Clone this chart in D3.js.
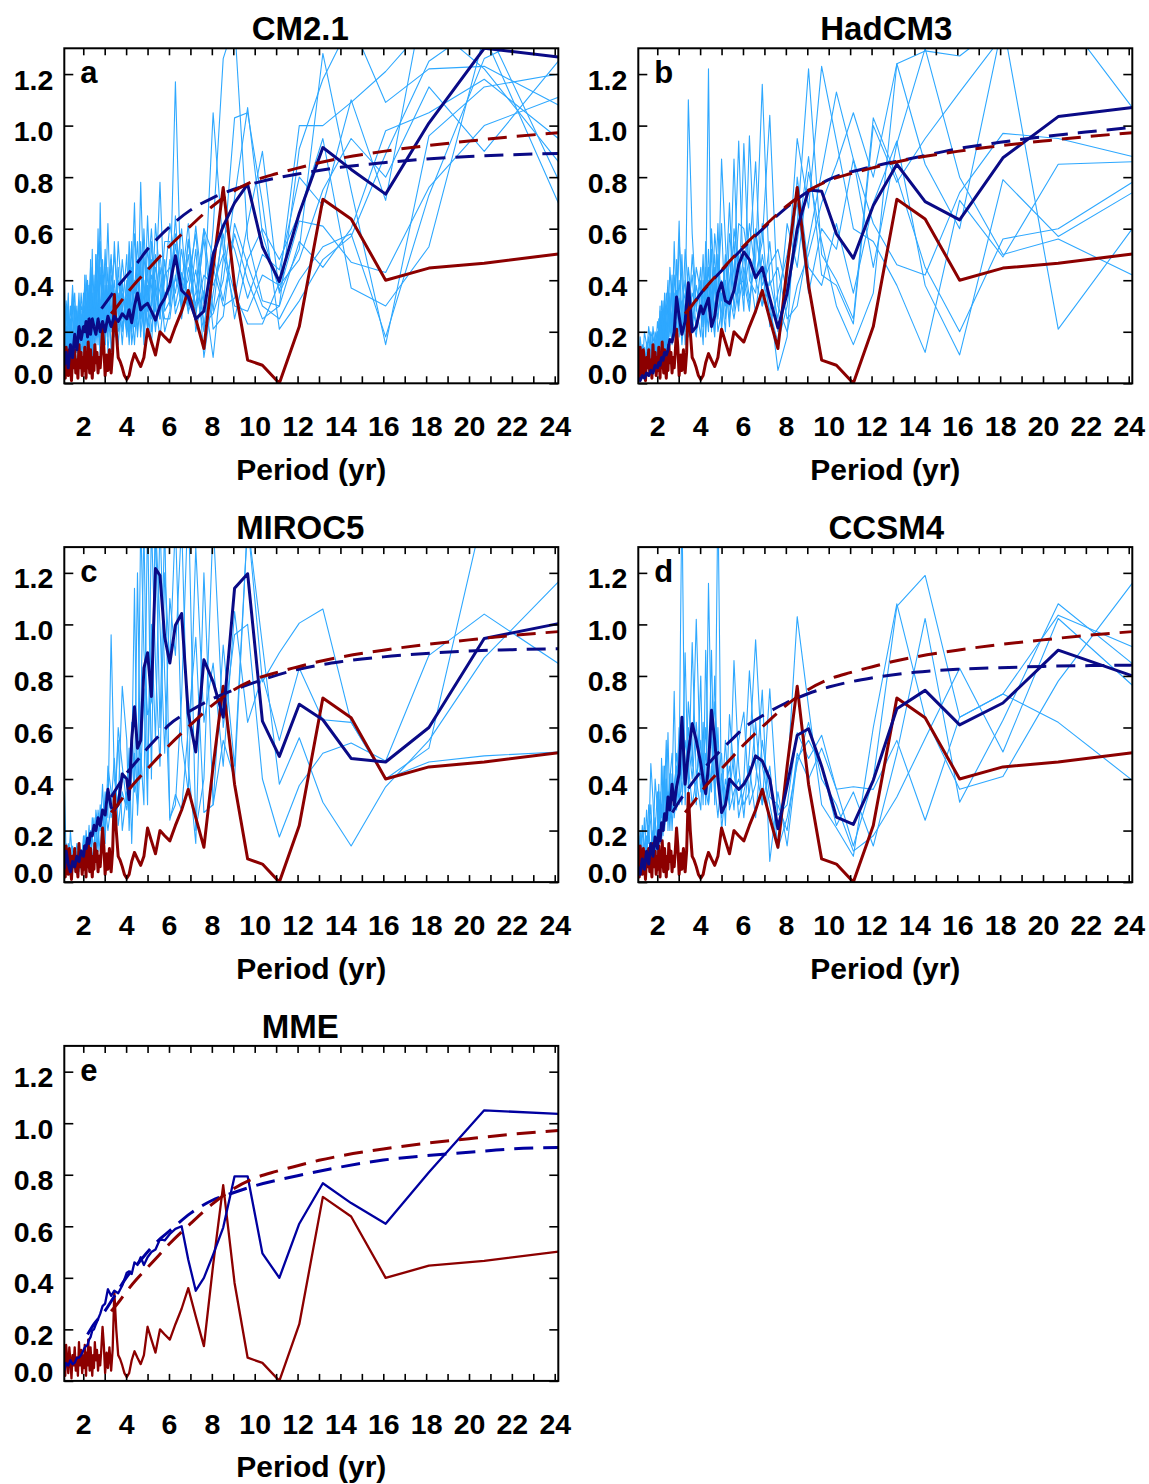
<!DOCTYPE html>
<html>
<head>
<meta charset="utf-8">
<script src="https://cdn.jsdelivr.net/npm/d3@7"></script>
<style>
  body { margin: 0; background: #fff; }
  svg { display: block; }
  svg text { font-family: "Liberation Sans", Arial, Helvetica, sans-serif; font-weight: bold; fill: #000; }
</style>
</head>
<body>
<svg id="fig" width="1149" height="1484"></svg>
<script>
// periods (yr) shared by the model members and ensemble means
const grid = [24.17, 20.71, 18.13, 16.11, 14.5, 13.18, 12.08, 11.15, 10.36, 9.67, 9.06, 8.53, 8.06, 7.63, 7.25, 6.9, 6.59, 6.3, 6.04,
  5.8, 5.58, 5.37, 5.18, 5.0, 4.83, 4.68, 4.53, 4.39, 4.26, 4.14, 4.03,
  3.82, 3.63, 3.45, 3.3, 3.15, 3.02, 2.9, 2.79, 2.69, 2.59, 2.5, 2.42, 2.34, 2.27, 2.2, 2.13, 2.07, 2.01,
  1.9, 1.8, 1.7, 1.6, 1.5, 1.4, 1.3, 1.2, 1.115];

// observations (same in every panel)
const obsPeriod = [24.17, 20.71, 18.13, 16.11, 14.5, 13.18, 12.08, 11.15, 10.36, 9.67, 9.06, 8.53, 8.06, 7.63, 7.25, 6.9, 6.59, 6.3, 6.04,
  5.8, 5.58, 5.37, 5.18, 5.0, 4.83, 4.68, 4.53, 4.39, 4.26, 4.14, 4.03,
  3.92, 3.82, 3.72, 3.63, 3.54, 3.45, 3.37, 3.3, 3.22, 3.15, 3.09, 3.02, 2.96, 2.9, 2.84, 2.79, 2.74, 2.69, 2.64, 2.59, 2.54, 2.5,
  2.46, 2.42, 2.38, 2.34, 2.3, 2.27, 2.23, 2.2, 2.16, 2.13, 2.1, 2.07, 2.04, 2.01,
  1.95, 1.9, 1.85, 1.8, 1.75, 1.7, 1.65, 1.6, 1.55, 1.5, 1.45, 1.4, 1.35, 1.3, 1.25, 1.2, 1.16, 1.115];
const obsPower = [0.502, 0.466, 0.447, 0.40, 0.638, 0.714, 0.22, 0.0, 0.07, 0.09, 0.38, 0.76, 0.45, 0.135, 0.25, 0.36, 0.28, 0.22, 0.16,
  0.18, 0.20, 0.11, 0.16, 0.21, 0.10, 0.065, 0.09, 0.115, 0.08, 0.03, 0.015,
  0.03, 0.06, 0.085, 0.10, 0.20, 0.345, 0.12, 0.04, 0.13, 0.05, 0.11, 0.03, 0.14, 0.21, 0.12, 0.06, 0.10, 0.04, 0.12, 0.08, 0.15, 0.05,
  0.10, 0.02, 0.07, 0.13, 0.04, 0.09, 0.16, 0.06, 0.11, 0.02, 0.08, 0.14, 0.05, 0.10,
  0.03, 0.12, 0.06, 0.15, 0.02, 0.09, 0.04, 0.13, 0.06, 0.10, 0.01, 0.08, 0.13, 0.03, 0.09, 0.14, 0.02, 0.10];

// red-noise fit of the observations
const obsFitPeriod = [3.3, 3.6, 4, 4.5, 5, 5.5, 6, 7, 8, 9, 10, 11, 12, 13, 14, 16, 18, 20, 22, 24.17];
const obsFit = [0.27, 0.30, 0.345, 0.395, 0.44, 0.485, 0.53, 0.61, 0.685, 0.745, 0.787, 0.813, 0.835, 0.856, 0.873, 0.90, 0.922, 0.94, 0.957, 0.972];

// CM2.1
const cm21Members = [
  [1.11, 1.00, 0.76, 0.43, 0.47, 0.61, 0.63, 0.36, 0.58, 1.07, 0.72, 0.40, 0.27, 0.23, 0.44, 0.30, 0.52, 0.35, 0.45,
   0.42, 0.25, 0.50, 0.30, 0.65, 0.22, 0.35, 0.18, 0.40, 0.28, 0.15, 0.33,
   0.22, 0.45, 0.18, 0.30, 0.12, 0.38, 0.20, 0.10, 0.28, 0.15, 0.35, 0.08, 0.22, 0.30, 0.12, 0.25, 0.06, 0.20,
   0.10, 0.22, 0.05, 0.18, 0.12, 0.25, 0.04, 0.15, 0.08],
  [1.08, 1.23, 1.22, 1.09, 1.40, 1.18, 0.91, 0.30, 0.32, 0.56, 1.40, 1.26, 0.60, 0.20, 0.37, 0.56, 0.28, 1.17, 0.32,
   0.28, 0.78, 0.35, 0.20, 0.45, 0.30, 0.55, 0.25, 0.70, 0.38, 0.20, 0.30,
   0.48, 0.25, 0.55, 0.20, 0.62, 0.30, 0.15, 0.45, 0.22, 0.50, 0.18, 0.35, 0.12, 0.28, 0.40, 0.15, 0.30, 0.10,
   0.25, 0.08, 0.30, 0.15, 0.20, 0.05, 0.28, 0.10, 0.18],
  [0.86, 1.22, 1.40, 1.21, 1.09, 1.00, 1.00, 0.39, 0.23, 0.23, 0.35, 0.52, 1.05, 0.31, 0.61, 0.34, 0.43, 0.30, 0.55,
   0.55, 0.30, 0.22, 0.48, 0.28, 0.60, 0.18, 0.42, 0.25, 0.15, 0.50, 0.22,
   0.35, 0.15, 0.40, 0.28, 0.20, 0.52, 0.25, 0.70, 0.15, 0.32, 0.20, 0.45, 0.28, 0.10, 0.35, 0.22, 0.15, 0.32,
   0.18, 0.30, 0.12, 0.25, 0.08, 0.20, 0.14, 0.30, 0.10],
  [0.79, 1.40, 1.25, 0.89, 0.57, 0.48, 0.32, 0.21, 0.70, 1.05, 1.03, 0.48, 0.10, 0.36, 0.20, 0.62, 0.38, 0.54, 0.28,
   0.20, 0.40, 0.62, 0.25, 0.38, 0.15, 0.48, 0.30, 0.22, 0.55, 0.28, 0.18,
   0.40, 0.30, 0.22, 0.50, 0.35, 0.15, 0.42, 0.25, 0.60, 0.20, 0.30, 0.12, 0.40, 0.25, 0.18, 0.35, 0.22, 0.12,
   0.28, 0.15, 0.22, 0.10, 0.32, 0.15, 0.20, 0.06, 0.22],
  [0.70, 1.35, 0.53, 0.30, 0.37, 0.95, 0.66, 0.48, 0.60, 0.48, 0.25, 0.58, 0.35, 0.10, 0.52, 0.27, 0.60, 0.40, 0.36,
   0.35, 0.18, 0.30, 0.55, 0.22, 0.35, 0.78, 0.20, 0.30, 0.45, 0.18, 0.40,
   0.15, 0.35, 0.28, 0.12, 0.45, 0.22, 0.35, 0.18, 0.40, 0.28, 0.10, 0.52, 0.20, 0.38, 0.15, 0.28, 0.42, 0.18,
   0.12, 0.35, 0.20, 0.28, 0.15, 0.10, 0.35, 0.18, 0.05],
  [1.40, 1.26, 0.73, 0.18, 0.58, 0.53, 0.40, 0.25, 0.30, 0.46, 0.62, 0.26, 0.21, 0.56, 0.30, 0.45, 0.25, 0.65, 0.30,
   0.48, 0.25, 0.40, 0.15, 0.30, 0.50, 0.25, 0.35, 0.15, 0.30, 0.40, 0.20,
   0.30, 0.55, 0.20, 0.38, 0.25, 0.30, 0.48, 0.15, 0.25, 0.40, 0.28, 0.20, 0.48, 0.15, 0.25, 0.18, 0.30, 0.22,
   0.35, 0.18, 0.28, 0.12, 0.20, 0.30, 0.10, 0.22, 0.15],
  [1.20, 1.15, 0.96, 0.15, 0.75, 1.28, 0.52, 0.35, 0.90, 0.62, 0.33, 0.30, 0.45, 0.22, 0.58, 0.40, 0.35, 0.27, 0.48,
   0.30, 0.45, 0.20, 0.38, 0.52, 0.28, 0.20, 0.42, 0.58, 0.22, 0.35, 0.30,
   0.25, 0.40, 0.32, 0.22, 0.38, 0.15, 0.28, 0.55, 0.30, 0.22, 0.42, 0.25, 0.15, 0.38, 0.20, 0.30, 0.12, 0.25,
   0.20, 0.12, 0.25, 0.30, 0.10, 0.20, 0.25, 0.12, 0.35],
  [1.30, 1.45, 1.60, 0.71, 1.10, 0.69, 0.80, 0.44, 0.50, 0.33, 0.52, 0.62, 0.28, 0.60, 0.25, 0.50, 0.30, 0.42, 0.25,
   0.25, 0.35, 0.45, 0.32, 0.20, 0.40, 0.30, 0.55, 0.35, 0.42, 0.25, 0.50,
   0.28, 0.20, 0.35, 0.42, 0.18, 0.28, 0.35, 0.30, 0.18, 0.38, 0.25, 0.30, 0.22, 0.35, 0.28, 0.10, 0.25, 0.35,
   0.15, 0.28, 0.18, 0.35, 0.25, 0.12, 0.18, 0.28, 0.20],
  [0.95, 1.18, 1.05, 0.98, 0.60, 0.45, 0.55, 0.30, 0.25, 0.40, 0.58, 0.32, 0.50, 0.60, 0.35, 0.28, 0.40, 0.58, 0.38,
   0.32, 0.50, 0.28, 0.42, 0.35, 0.20, 0.45, 0.30, 0.25, 0.38, 0.55, 0.25,
   0.38, 0.22, 0.30, 0.48, 0.25, 0.20, 0.42, 0.28, 0.35, 0.50, 0.20, 0.28, 0.35, 0.20, 0.30, 0.42, 0.18, 0.26,
   0.30, 0.20, 0.12, 0.28, 0.35, 0.15, 0.22, 0.32, 0.12],
  [1.25, 0.90, 1.15, 0.80, 0.95, 0.75, 0.48, 0.38, 0.42, 0.28, 0.30, 0.50, 0.38, 0.42, 0.28, 0.55, 0.30, 0.48, 0.62,
   0.40, 0.28, 0.35, 0.60, 0.40, 0.30, 0.25, 0.48, 0.30, 0.20, 0.45, 0.35,
   0.20, 0.32, 0.50, 0.35, 0.28, 0.45, 0.32, 0.22, 0.48, 0.35, 0.28, 0.22, 0.45, 0.32, 0.25, 0.15, 0.38, 0.30,
   0.25, 0.32, 0.15, 0.22, 0.38, 0.20, 0.30, 0.08, 0.42]
];
const cm21Mean = [1.266, 1.30, 1.01, 0.734, 0.83, 0.915, 0.66, 0.395, 0.53, 0.773, 0.70, 0.61, 0.50, 0.28, 0.25, 0.335, 0.36, 0.495, 0.38,
  0.33, 0.30, 0.245, 0.28, 0.31, 0.30, 0.285, 0.35, 0.30, 0.235, 0.285, 0.25,
  0.27, 0.24, 0.26, 0.22, 0.26, 0.20, 0.24, 0.20, 0.25, 0.19, 0.22, 0.25, 0.19, 0.25, 0.18, 0.24, 0.20, 0.22,
  0.17, 0.22, 0.13, 0.19, 0.10, 0.15, 0.06, 0.12, 0.07];
const cm21FitPeriod = [2.85, 3.2, 3.6, 4, 4.5, 5, 5.5, 6, 7, 8, 9, 10, 12, 14, 16, 18, 20, 22, 24.17];
const cm21Fit = [0.29, 0.33, 0.375, 0.415, 0.465, 0.52, 0.565, 0.605, 0.672, 0.718, 0.752, 0.777, 0.812, 0.838, 0.856, 0.87, 0.88, 0.887, 0.892];

// HadCM3
const hadcm3Members = [
  [1.07, 1.45, 1.40, 1.27, 1.29, 1.24, 0.80, 1.05, 0.85, 0.70, 0.50, 0.38, 0.20, 0.30, 1.04, 0.55, 0.42, 0.62, 0.35,
   0.94, 0.40, 0.25, 0.55, 0.87, 0.30, 0.45, 0.20, 1.22, 0.35, 0.25, 0.40,
   0.30, 0.58, 1.10, 0.25, 0.40, 0.55, 0.20, 0.30, 0.15, 0.28, 0.35, 0.10, 0.22, 0.15, 0.25, 0.08, 0.18, 0.12,
   0.06, 0.15, 0.04, 0.10, 0.12, 0.03, 0.08, 0.05, 0.02],
  [0.88, 0.95, 0.97, 0.74, 0.42, 0.46, 0.62, 0.87, 1.13, 0.82, 0.55, 0.30, 0.25, 0.45, 0.38, 1.16, 0.48, 0.33, 0.50,
   0.35, 0.87, 0.30, 0.48, 0.20, 0.62, 0.28, 0.40, 0.30, 0.55, 0.22, 0.35,
   0.45, 0.25, 0.38, 0.52, 0.20, 0.63, 0.30, 0.42, 0.18, 0.32, 0.12, 0.25, 0.35, 0.10, 0.20, 0.28, 0.08, 0.15,
   0.20, 0.06, 0.12, 0.18, 0.05, 0.10, 0.15, 0.02, 0.10],
  [0.86, 0.85, 0.49, 0.71, 0.12, 0.38, 0.55, 0.60, 0.94, 1.23, 0.68, 0.95, 0.40, 0.20, 0.55, 0.30, 0.40, 0.96, 0.28,
   0.50, 0.28, 0.70, 0.35, 0.22, 0.45, 0.58, 0.25, 0.40, 0.18, 0.50, 0.30,
   0.20, 0.42, 0.30, 0.15, 0.50, 0.25, 0.36, 0.20, 0.30, 0.45, 0.22, 0.15, 0.28, 0.20, 0.12, 0.30, 0.18, 0.10,
   0.14, 0.22, 0.08, 0.05, 0.15, 0.20, 0.04, 0.12, 0.06],
  [0.78, 0.60, 0.56, 0.20, 0.45, 0.80, 1.03, 0.25, 0.40, 0.50, 1.22, 0.62, 0.30, 0.16, 0.28, 0.42, 0.58, 0.30, 0.45,
   0.30, 0.55, 0.40, 0.25, 0.62, 0.38, 0.20, 0.52, 0.30, 0.45, 0.15, 0.28,
   0.38, 0.20, 0.28, 0.40, 0.30, 0.18, 0.48, 0.26, 0.38, 0.20, 0.30, 0.35, 0.15, 0.26, 0.32, 0.12, 0.20, 0.24,
   0.10, 0.16, 0.20, 0.12, 0.06, 0.14, 0.10, 0.18, 0.04],
  [0.74, 0.57, 0.79, 0.11, 0.38, 0.94, 0.70, 0.35, 0.62, 0.38, 0.45, 0.80, 0.18, 0.05, 0.32, 0.50, 0.27, 0.45, 0.60,
   0.62, 0.35, 0.48, 0.30, 0.40, 0.25, 0.35, 0.60, 0.20, 0.32, 0.40, 0.18,
   0.30, 0.35, 0.18, 0.30, 0.22, 0.40, 0.25, 0.55, 0.20, 0.35, 0.25, 0.18, 0.30, 0.12, 0.22, 0.18, 0.25, 0.08,
   0.18, 0.10, 0.15, 0.22, 0.10, 0.05, 0.12, 0.08, 0.14],
  [0.60, 0.21, 1.40, 0.60, 0.85, 1.24, 0.35, 0.15, 0.30, 0.55, 0.82, 0.45, 0.62, 0.25, 0.40, 0.30, 0.86, 0.50, 0.34,
   0.45, 0.60, 0.22, 0.40, 0.32, 0.50, 0.18, 0.30, 0.45, 0.25, 0.35, 0.28,
   0.22, 0.30, 0.45, 0.20, 0.32, 0.28, 0.15, 0.35, 0.25, 0.18, 0.40, 0.28, 0.20, 0.32, 0.15, 0.22, 0.12, 0.20,
   0.12, 0.08, 0.18, 0.05, 0.12, 0.08, 0.03, 0.10, 0.07],
  [0.42, 0.56, 0.50, 0.80, 1.30, 0.93, 0.45, 0.87, 0.52, 0.60, 0.35, 0.70, 0.50, 0.35, 0.22, 0.62, 0.35, 0.40, 0.93,
   0.28, 0.42, 0.58, 0.20, 0.35, 0.28, 0.50, 0.35, 0.28, 0.40, 0.22, 0.45,
   0.28, 0.50, 0.22, 0.35, 0.28, 0.20, 0.30, 0.22, 0.42, 0.25, 0.16, 0.30, 0.22, 0.18, 0.28, 0.15, 0.22, 0.16,
   0.08, 0.12, 0.06, 0.14, 0.08, 0.12, 0.06, 0.04, 0.09],
  [1.40, 1.30, 1.35, 1.13, 0.95, 0.78, 1.00, 0.23, 0.38, 0.42, 0.88, 0.55, 0.35, 0.52, 0.46, 0.38, 0.60, 0.28, 0.40,
   0.38, 0.25, 0.35, 0.50, 0.28, 0.20, 0.40, 0.30, 0.52, 0.22, 0.30, 0.38,
   0.18, 0.25, 0.35, 0.30, 0.15, 0.33, 0.28, 0.18, 0.25, 0.30, 0.20, 0.22, 0.12, 0.25, 0.18, 0.10, 0.15, 0.20,
   0.14, 0.18, 0.10, 0.08, 0.16, 0.04, 0.10, 0.06, 0.02]
];
const hadcm3Mean = [1.07, 1.035, 0.875, 0.634, 0.705, 0.85, 0.69, 0.485, 0.58, 0.745, 0.75, 0.60, 0.35, 0.215, 0.33, 0.45, 0.41, 0.48, 0.51,
  0.46, 0.36, 0.31, 0.32, 0.39, 0.35, 0.26, 0.22, 0.33, 0.30, 0.27, 0.30,
  0.22, 0.20, 0.39, 0.24, 0.19, 0.26, 0.335, 0.20, 0.16, 0.17, 0.13, 0.11, 0.12, 0.09, 0.10, 0.07, 0.08, 0.06,
  0.07, 0.04, 0.05, 0.03, 0.04, 0.02, 0.03, 0.01, 0.02];
const hadcm3FitPeriod = [3.8, 4, 4.5, 5, 5.5, 6, 7, 8, 9, 10, 12, 14, 16, 18, 20, 22, 24.17];
const hadcm3Fit = [0.32, 0.345, 0.392, 0.437, 0.482, 0.525, 0.605, 0.68, 0.742, 0.79, 0.84, 0.875, 0.91, 0.935, 0.957, 0.975, 0.993];

// MIROC5
const miroc5Members = [
  [1.165, 0.87, 0.55, 0.37, 0.14, 0.31, 0.56, 0.38, 0.92, 1.40, 0.45, 0.92, 0.30, 0.27, 0.95, 0.60, 0.28, 0.34, 0.24,
   1.40, 0.60, 1.40, 0.40, 1.45, 0.30, 0.50, 0.26, 1.14, 0.45, 0.20, 0.55,
   0.76, 0.30, 0.40, 0.96, 0.25, 0.35, 0.18, 0.30, 0.12, 0.22, 0.15, 0.08, 0.20, 0.10, 0.15, 0.05, 0.12, 0.18,
   0.06, 0.10, 0.15, 0.05, 0.08, 0.20, 0.03, 0.10, 0.40],
  [0.848, 1.04, 0.88, 0.47, 0.54, 0.50, 0.375, 0.175, 0.40, 1.00, 0.96, 0.60, 1.40, 0.40, 0.20, 1.50, 0.72, 0.30, 0.25,
   0.80, 1.40, 0.55, 1.00, 0.40, 1.40, 0.60, 0.35, 0.50, 0.15, 0.52, 0.30,
   0.45, 0.60, 0.20, 0.35, 0.45, 0.15, 0.38, 0.20, 0.28, 0.10, 0.25, 0.18, 0.08, 0.22, 0.12, 0.18, 0.06, 0.15,
   0.10, 0.04, 0.12, 0.08, 0.14, 0.02, 0.09, 0.05, 0.10],
  [1.60, 1.45, 0.52, 0.40, 0.62, 1.06, 1.005, 0.89, 0.777, 1.40, 0.40, 0.55, 0.30, 1.20, 0.15, 0.45, 1.40, 0.88, 1.10,
   0.50, 1.00, 1.40, 0.70, 0.65, 0.90, 1.40, 0.30, 0.40, 0.62, 0.25, 0.35,
   0.20, 0.55, 0.30, 0.25, 0.38, 0.20, 0.26, 0.12, 0.20, 0.28, 0.10, 0.18, 0.12, 0.06, 0.14, 0.20, 0.08, 0.12,
   0.05, 0.15, 0.06, 0.10, 0.04, 0.12, 0.07, 0.15, 0.02],
  [0.505, 0.49, 0.466, 0.40, 0.62, 0.63, 0.83, 0.55, 0.80, 0.62, 1.05, 0.45, 0.85, 0.62, 1.30, 0.35, 0.55, 1.40, 0.85,
   1.20, 0.45, 0.85, 1.40, 0.30, 0.75, 0.40, 1.20, 0.35, 0.48, 0.40, 0.28,
   0.35, 0.22, 0.48, 0.30, 0.20, 0.30, 0.15, 0.25, 0.18, 0.12, 0.20, 0.25, 0.10, 0.16, 0.08, 0.12, 0.18, 0.05,
   0.12, 0.08, 0.03, 0.12, 0.06, 0.09, 0.15, 0.04, 0.08]
];
const miroc5Mean = [1.003, 0.945, 0.60, 0.466, 0.48, 0.63, 0.69, 0.488, 0.625, 1.197, 1.14, 0.64, 0.777, 0.863, 0.505, 0.654, 1.042, 0.997, 0.85,
  0.95, 1.19, 1.217, 0.72, 0.89, 0.83, 0.55, 0.52, 0.68, 0.55, 0.32, 0.40,
  0.42, 0.30, 0.28, 0.29, 0.36, 0.26, 0.28, 0.22, 0.25, 0.20, 0.22, 0.18, 0.19, 0.15, 0.17, 0.13, 0.14, 0.10,
  0.12, 0.08, 0.10, 0.06, 0.08, 0.04, 0.07, 0.12, 0.05];
const miroc5FitPeriod = [3.3, 3.6, 4, 4.5, 5, 5.5, 6, 7, 8, 9, 10, 12, 14, 16, 18, 20, 22, 24.17];
const miroc5Fit = [0.33, 0.37, 0.42, 0.47, 0.52, 0.565, 0.61, 0.665, 0.71, 0.745, 0.775, 0.825, 0.855, 0.874, 0.887, 0.897, 0.902, 0.906];

// CCSM4
const ccsm4Members = [
  [1.16, 0.78, 0.41, 0.36, 0.64, 1.08, 0.60, 0.10, 0.21, 0.30, 0.68, 1.03, 0.40, 0.14, 0.30, 0.45, 0.94, 0.50, 0.25,
   0.45, 0.86, 0.30, 0.40, 0.25, 1.50, 0.35, 0.55, 1.16, 0.30, 0.62, 0.40,
   1.02, 0.45, 0.60, 0.30, 1.50, 0.45, 0.28, 0.74, 0.35, 0.25, 0.58, 0.30, 0.20, 0.45, 0.25, 0.35, 0.15, 0.28,
   0.40, 0.12, 0.30, 0.20, 0.10, 0.25, 0.08, 0.18, 0.05],
  [0.913, 1.036, 0.73, 0.64, 1.19, 1.07, 0.40, 0.14, 0.36, 0.57, 0.48, 0.58, 0.30, 0.26, 0.75, 0.30, 0.45, 0.82, 0.40,
   0.30, 0.42, 0.65, 0.22, 0.50, 0.40, 0.80, 0.35, 0.45, 0.90, 0.30, 0.55,
   0.40, 0.93, 0.35, 0.89, 0.40, 0.60, 0.35, 0.25, 0.50, 0.40, 0.20, 0.55, 0.35, 0.25, 0.48, 0.15, 0.38, 0.22,
   0.12, 0.32, 0.46, 0.15, 0.28, 0.08, 0.20, 0.12, 0.15],
  [0.848, 1.08, 0.628, 0.31, 1.023, 0.50, 0.14, 0.35, 0.22, 0.45, 0.55, 0.48, 0.14, 0.35, 0.08, 0.745, 0.38, 0.30, 0.66,
   0.55, 0.28, 0.45, 0.35, 0.20, 0.60, 0.30, 0.90, 0.40, 0.50, 0.35, 0.80,
   0.30, 0.50, 0.70, 0.35, 0.55, 0.30, 0.45, 0.38, 0.20, 0.42, 0.30, 0.25, 0.40, 0.18, 0.30, 0.25, 0.12, 0.35,
   0.20, 0.10, 0.22, 0.30, 0.06, 0.15, 0.22, 0.04, 0.10],
  [0.764, 1.023, 0.505, 0.83, 0.557, 0.33, 0.18, 0.12, 0.30, 0.40, 0.62, 0.46, 0.25, 0.13, 0.45, 0.30, 0.62, 0.35, 0.30,
   0.40, 0.35, 0.28, 0.55, 0.30, 0.45, 0.70, 0.42, 0.30, 0.60, 0.45, 0.35,
   0.62, 0.40, 0.55, 0.45, 0.35, 0.55, 0.40, 0.30, 0.42, 0.20, 0.35, 0.28, 0.45, 0.22, 0.18, 0.32, 0.25, 0.10,
   0.25, 0.18, 0.08, 0.22, 0.15, 0.05, 0.12, 0.20, 0.03],
  [0.395, 0.62, 0.73, 0.64, 0.24, 0.55, 0.36, 0.37, 0.36, 0.52, 0.40, 0.50, 0.20, 0.30, 0.33, 0.55, 0.25, 0.45, 0.35,
   0.25, 0.50, 0.35, 0.30, 0.42, 0.25, 0.38, 0.45, 0.30, 0.35, 0.50, 0.28,
   0.40, 0.30, 0.45, 0.55, 0.30, 0.40, 0.50, 0.32, 0.28, 0.35, 0.25, 0.40, 0.22, 0.30, 0.15, 0.25, 0.32, 0.18,
   0.08, 0.20, 0.14, 0.10, 0.18, 0.12, 0.04, 0.08, 0.12]
];
const ccsm4Mean = [0.80, 0.90, 0.695, 0.61, 0.744, 0.673, 0.395, 0.224, 0.252, 0.45, 0.595, 0.57, 0.375, 0.207, 0.40, 0.47, 0.49, 0.42, 0.38,
  0.36, 0.38, 0.40, 0.30, 0.27, 0.40, 0.55, 0.667, 0.45, 0.343, 0.40, 0.46,
  0.55, 0.615, 0.50, 0.38, 0.64, 0.42, 0.37, 0.30, 0.38, 0.28, 0.33, 0.24, 0.265, 0.20, 0.23, 0.16, 0.20, 0.13,
  0.175, 0.10, 0.15, 0.07, 0.12, 0.05, 0.09, 0.03, 0.06];
const ccsm4FitPeriod = [2.7, 3, 3.5, 4, 4.5, 5, 5.5, 6, 7, 8, 9, 10, 12, 14, 16, 18, 20, 22, 24.17];
const ccsm4Fit = [0.27, 0.31, 0.37, 0.425, 0.47, 0.515, 0.555, 0.595, 0.65, 0.695, 0.73, 0.757, 0.792, 0.814, 0.826, 0.832, 0.837, 0.84, 0.842];

// MME
const mmeMean = [1.036, 1.05, 0.81, 0.61, 0.69, 0.767, 0.61, 0.40, 0.495, 0.794, 0.794, 0.595, 0.49, 0.40, 0.35, 0.47, 0.60, 0.59, 0.57,
  0.545, 0.55, 0.51, 0.50, 0.48, 0.45, 0.48, 0.45, 0.46, 0.415, 0.425, 0.42,
  0.37, 0.34, 0.35, 0.33, 0.356, 0.30, 0.29, 0.26, 0.24, 0.22, 0.20, 0.195, 0.17, 0.16, 0.14, 0.135, 0.13, 0.12,
  0.10, 0.09, 0.09, 0.07, 0.065, 0.08, 0.06, 0.07, 0.04];
const mmeFitPeriod = [2.2, 2.5, 3, 3.5, 4, 4.5, 5, 5.5, 6, 7, 8, 9, 10, 12, 14, 16, 18, 20, 22, 24.17];
const mmeFit = [0.18, 0.22, 0.27, 0.335, 0.40, 0.45, 0.50, 0.545, 0.58, 0.65, 0.70, 0.73, 0.757, 0.796, 0.83, 0.857, 0.874, 0.887, 0.90, 0.906];

const xTickValues = [2, 3, 4, 5, 6, 7, 8, 9, 10, 11, 12, 13, 14, 15, 16, 17, 18, 19, 20, 21, 22, 23, 24];
const yTickValues = [0, 0.2, 0.4, 0.6, 0.8, 1.0, 1.2];

const panels = [
  {title: "CM2.1", letter: "a", col: 0, row: 0, members: cm21Members, mean: cm21Mean, fitP: cm21FitPeriod, fit: cm21Fit},
  {title: "HadCM3", letter: "b", col: 1, row: 0, members: hadcm3Members, mean: hadcm3Mean, fitP: hadcm3FitPeriod, fit: hadcm3Fit},
  {title: "MIROC5", letter: "c", col: 0, row: 1, members: miroc5Members, mean: miroc5Mean, fitP: miroc5FitPeriod, fit: miroc5Fit},
  {title: "CCSM4", letter: "d", col: 1, row: 1, members: ccsm4Members, mean: ccsm4Mean, fitP: ccsm4FitPeriod, fit: ccsm4Fit},
  {title: "MME", letter: "e", col: 0, row: 2, members: [], mean: mmeMean, fitP: mmeFitPeriod, fit: mmeFit, thin: true}
];

// layout
const W = 494, H = 335;
const colLeft = [64.3, 638.3];
const rowTop = [48.3, 547.1, 1045.9];
const titleDx = [236, 248];

const lightBlue = "#2ea8ff", darkBlue = "#0a0a86", darkRed = "#8c0000";

const x = d3.scaleLinear().domain([1.115, 24.167]).range([0, W]);
const y = d3.scaleLinear().domain([0, 1.3]).range([H, 0]);

const line = d3.line().x(d => x(d[0])).y(d => y(d[1]));
const smooth = d3.line().curve(d3.curveMonotoneX).x(d => x(d[0])).y(d => y(d[1]));

const svg = d3.select("#fig");

function styleAxis(g) {
  g.attr("font-size", 28.5).attr("font-family", null);
  g.select(".domain").remove();
  g.selectAll(".tick line").attr("stroke", "#000").attr("stroke-width", 1.6);
}

panels.forEach((p, i) => {
  const g = svg.append("g")
    .attr("transform", "translate(" + colLeft[p.col] + "," + rowTop[p.row] + ")");

  g.append("clipPath").attr("id", "clip" + i)
    .append("rect").attr("width", W).attr("height", H);

  const plot = g.append("g").attr("clip-path", "url(#clip" + i + ")");

  // individual members
  p.members.forEach(m => {
    plot.append("path")
      .datum(d3.zip(grid, m))
      .attr("fill", "none")
      .attr("stroke", lightBlue)
      .attr("stroke-width", 1.1)
      .attr("stroke-linejoin", "round")
      .attr("d", line);
  });

  const lw = p.thin ? 2.3 : 3;

  // observations
  plot.append("path")
    .datum(d3.zip(obsPeriod, obsPower))
    .attr("fill", "none")
    .attr("stroke", darkRed)
    .attr("stroke-width", lw)
    .attr("stroke-linejoin", "round")
    .attr("d", line);

  // ensemble mean
  plot.append("path")
    .datum(d3.zip(grid, p.mean))
    .attr("fill", "none")
    .attr("stroke", p.thin ? "#0000a0" : darkBlue)
    .attr("stroke-width", lw)
    .attr("stroke-linejoin", "round")
    .attr("d", line);

  // red-noise fits
  plot.append("path")
    .datum(d3.zip(p.fitP, p.fit))
    .attr("fill", "none")
    .attr("stroke", p.thin ? "#0000a0" : darkBlue)
    .attr("stroke-width", 3)
    .attr("stroke-dasharray", "19,10")
    .attr("d", smooth);

  plot.append("path")
    .datum(d3.zip(obsFitPeriod, obsFit))
    .attr("fill", "none")
    .attr("stroke", darkRed)
    .attr("stroke-width", 3)
    .attr("stroke-dasharray", "19,10")
    .attr("d", smooth);

  // axes, ticks pointing inward
  g.append("g")
    .attr("transform", "translate(0," + H + ")")
    .call(d3.axisBottom(x).tickValues(xTickValues).tickSizeInner(-7).tickSizeOuter(0)
      .tickFormat(d => d % 2 ? "" : d))
    .call(styleAxis)
    .selectAll("text").attr("y", 53).attr("dy", 0);

  g.append("g")
    .call(d3.axisTop(x).tickValues(xTickValues).tickSizeInner(-7).tickSizeOuter(0).tickFormat(""))
    .call(styleAxis);

  g.append("g")
    .call(d3.axisLeft(y).tickValues(yTickValues).tickSizeInner(-9).tickSizeOuter(0)
      .tickFormat(d3.format(".1f")))
    .call(styleAxis)
    .selectAll("text").attr("x", -11).attr("dy", d => d === 0 ? 0.5 : 15);

  g.append("g")
    .attr("transform", "translate(" + W + ",0)")
    .call(d3.axisRight(y).tickValues(yTickValues).tickSizeInner(-9).tickSizeOuter(0).tickFormat(""))
    .call(styleAxis);

  g.append("rect")
    .attr("width", W).attr("height", H)
    .attr("fill", "none").attr("stroke", "#000").attr("stroke-width", 2);

  // labels
  g.append("text")
    .attr("x", titleDx[p.col]).attr("y", -8.3)
    .attr("text-anchor", "middle").attr("font-size", 33)
    .text(p.title);

  g.append("text")
    .attr("x", 16).attr("y", 35)
    .attr("font-size", 31)
    .text(p.letter);

  g.append("text")
    .attr("x", W / 2).attr("y", H + 96.5)
    .attr("text-anchor", "middle").attr("font-size", 30)
    .text("Period (yr)");
});
</script>
</body>
</html>
